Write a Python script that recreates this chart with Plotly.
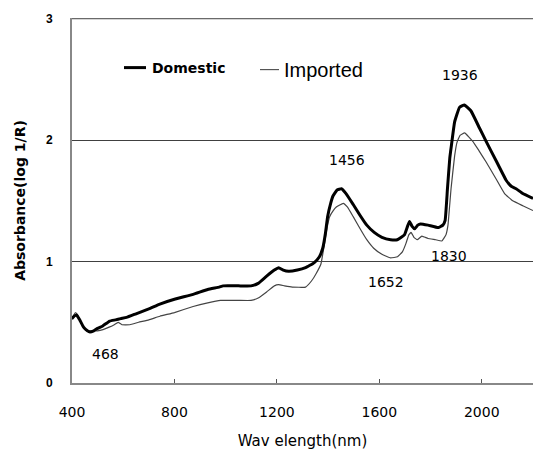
import plotly.graph_objects as go

# Domestic spectrum (wavelength nm, absorbance log 1/R)
dom_wl = [400, 408, 418, 430, 445, 460, 470, 485, 500, 520, 547, 570, 590, 613, 650, 700, 743, 800, 873, 930,
          975, 990, 1050, 1099, 1127, 1160, 1190, 1207, 1225, 1246, 1280, 1312, 1345, 1366, 1379, 1390, 1398,
          1410, 1419, 1435, 1452, 1470, 1498, 1525, 1551, 1580, 1610, 1644, 1670, 1698, 1710, 1718, 1728, 1738,
          1750, 1761, 1790, 1830, 1848, 1857, 1866, 1875, 1881, 1894, 1913, 1932, 1958, 1991, 2017, 2056, 2095,
          2115, 2134, 2160, 2200]
dom_abs = [0.53, 0.55, 0.56, 0.52, 0.46, 0.43, 0.42, 0.43, 0.45, 0.47, 0.51, 0.52, 0.53, 0.54, 0.57, 0.61, 0.65,
           0.69, 0.73, 0.77, 0.79, 0.80, 0.80, 0.80, 0.82, 0.88, 0.93, 0.95, 0.93, 0.92, 0.93, 0.95, 0.99, 1.04,
           1.11, 1.24, 1.37, 1.48, 1.54, 1.59, 1.60, 1.56, 1.47, 1.38, 1.30, 1.24, 1.20, 1.18, 1.18, 1.22, 1.29,
           1.33, 1.29, 1.27, 1.30, 1.31, 1.30, 1.28, 1.30, 1.34, 1.60, 1.85, 1.95, 2.15, 2.27, 2.29, 2.24, 2.10,
           1.99, 1.83, 1.67, 1.62, 1.60, 1.56, 1.52]

# Imported spectrum
imp_wl = [400, 407, 414, 422, 435, 450, 465, 480, 500, 521, 545, 565, 580, 595, 626, 660, 700, 743, 800, 873,
          930, 980, 990, 1050, 1099, 1127, 1160, 1190, 1207, 1230, 1260, 1312, 1335, 1353, 1372, 1386, 1396,
          1406, 1420, 1432, 1459, 1475, 1498, 1525, 1551, 1578, 1610, 1644, 1671, 1690, 1704, 1715, 1724, 1735,
          1748, 1766, 1790, 1820, 1844, 1860, 1868, 1880, 1894, 1903, 1915, 1933, 1965, 1990, 2017, 2056, 2089,
          2121, 2160, 2200]
imp_abs = [0.52, 0.56, 0.58, 0.56, 0.50, 0.45, 0.43, 0.43, 0.43, 0.44, 0.46, 0.48, 0.50, 0.48, 0.48, 0.50, 0.52,
           0.55, 0.58, 0.63, 0.66, 0.68, 0.68, 0.68, 0.68, 0.70, 0.75, 0.80, 0.81, 0.80, 0.79, 0.79, 0.84, 0.90,
           0.98, 1.15, 1.28, 1.37, 1.42, 1.45, 1.48, 1.45, 1.37, 1.27, 1.18, 1.11, 1.06, 1.03, 1.04, 1.08, 1.15,
           1.22, 1.24, 1.20, 1.18, 1.21, 1.19, 1.18, 1.17, 1.22, 1.30, 1.60, 1.87, 1.98, 2.04, 2.06, 1.99, 1.91,
           1.82, 1.68, 1.56, 1.50, 1.46, 1.42]

# Peak labels
peak_text = ["1936", "1456", "1830", "1652", "468"]
peak_x = [1913, 1472, 1873, 1627, 532]
peak_y = [2.54, 1.84, 1.05, 0.83, 0.24]

x_ticks = [400, 800, 1200, 1600, 2000]
y_ticks = [0, 1, 2, 3]
y_max = 3

fig = go.Figure()
fig.add_trace(go.Scatter(x=imp_wl, y=imp_abs, mode="lines", name="Imported",
                         line=dict(color="#444444", width=1.2, shape="spline", smoothing=0.3)))
fig.add_trace(go.Scatter(x=dom_wl, y=dom_abs, mode="lines", name="Domestic",
                         line=dict(color="#000000", width=3, shape="spline", smoothing=0.3)))

for t, x, y in zip(peak_text, peak_x, peak_y):
    fig.add_annotation(x=x, y=y, text=t, showarrow=False, xanchor="center", yanchor="middle",
                       font=dict(family="DejaVu Sans", size=14, color="#000000"))

# top gridline (at the edge of the plot area)
fig.add_shape(type="line", xref="paper", yref="y", x0=0, x1=1, y0=y_max, y1=y_max,
              line=dict(color="#404040", width=1), layer="below")

# manual legend
fig.add_shape(type="line", xref="paper", yref="paper", x0=0.1128, x1=0.1605, y0=0.8641, y1=0.8641,
              line=dict(color="#000000", width=3))
fig.add_annotation(xref="paper", yref="paper", x=0.1692, y=0.8641, text="<b>Domestic</b>", showarrow=False,
                   xanchor="left", yanchor="middle", font=dict(family="DejaVu Sans", size=14, color="#000000"))
fig.add_shape(type="line", xref="paper", yref="paper", x0=0.4078, x1=0.4490, y0=0.8587, y1=0.8587,
              line=dict(color="#555555", width=1.2))
fig.add_annotation(xref="paper", yref="paper", x=0.4555, y=0.8587, text="Imported", showarrow=False,
                   xanchor="left", yanchor="middle", font=dict(family="Liberation Sans", size=20, color="#000000"))

fig.update_layout(
    width=533, height=450,
    margin=dict(l=72, r=0, t=18, b=64),
    paper_bgcolor="white", plot_bgcolor="white",
    showlegend=False,
    xaxis=dict(range=[400, 2200], tickvals=x_ticks, ticktext=[str(v) for v in x_ticks],
               showgrid=False, zeroline=False, showline=True, linecolor="#888888", linewidth=2,
               ticks="inside", ticklen=4, tickcolor="#555555", tickwidth=1,
               tickfont=dict(family="DejaVu Sans", size=14, color="#000000"), ticklabelstandoff=15,
               title=dict(text="Wav elength(nm)", font=dict(family="DejaVu Sans", size=15, color="#000000"),
                          standoff=20)),
    yaxis=dict(range=[0, 3.006], tickvals=y_ticks, showgrid=True, gridcolor="#404040", gridwidth=1,
               zeroline=False, showline=True, linecolor="#888888", linewidth=2, ticks="",
               tickfont=dict(family="Liberation Sans", size=12, color="#000000", weight="bold"),
               ticklabelstandoff=15,
               title=dict(text="<b>Absorbance(log 1/R)</b>",
                          font=dict(family="DejaVu Sans", size=14, color="#000000"), standoff=17)),
)

fig.write_html("out.html")
